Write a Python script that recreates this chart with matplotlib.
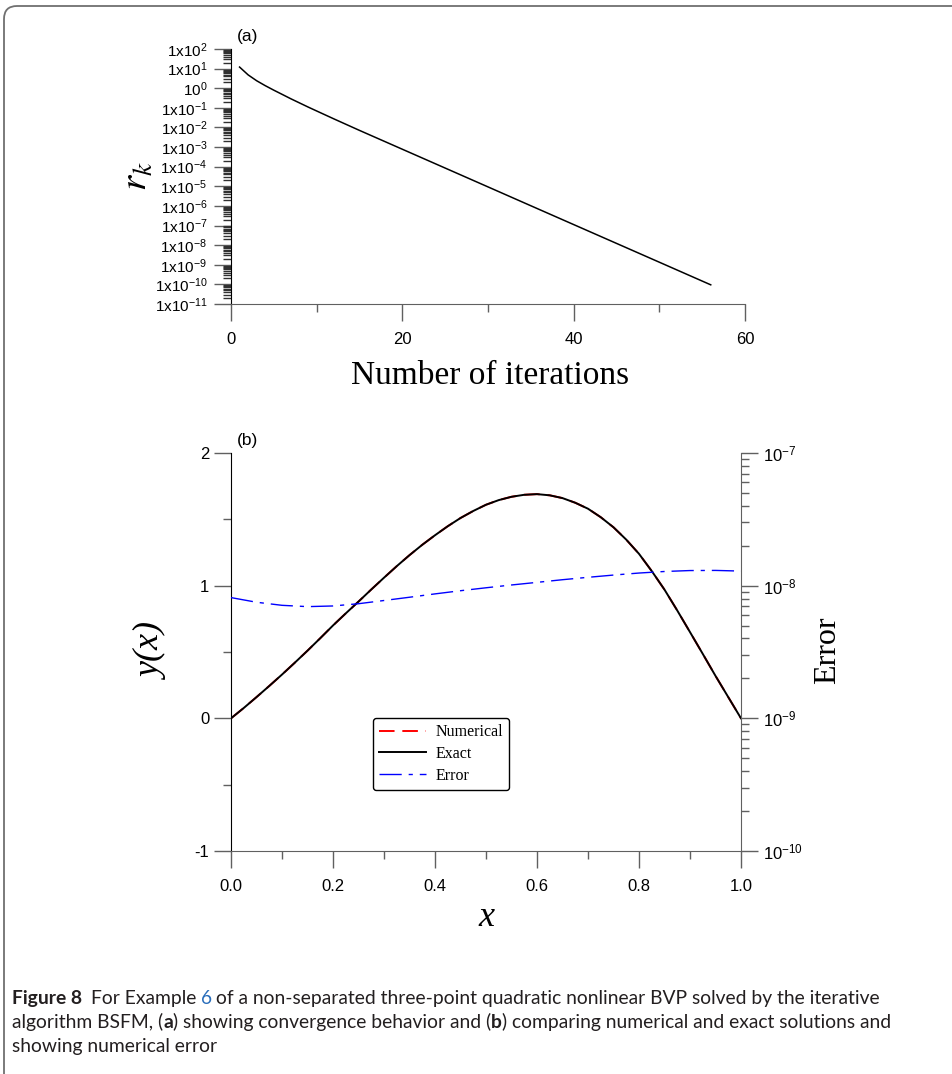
import matplotlib
matplotlib.use("Agg")
import matplotlib.pyplot as plt
import matplotlib.patches as mpatches
from matplotlib.ticker import FixedLocator, FixedFormatter, MultipleLocator, LogLocator, NullFormatter

plt.rcParams['font.family'] = ['Liberation Sans', 'DejaVu Sans']
plt.rcParams['mathtext.fontset'] = 'stix'
plt.rcParams['mathtext.default'] = 'regular'
plt.rcParams['axes.unicode_minus'] = False

# (a) convergence: residual r_k against iteration number
iterations = [1, 2, 3, 4, 5, 6, 7, 8, 9, 10, 12, 15, 20, 25, 30, 35, 40, 45, 50, 56]
residual = [12.0, 4.79, 2.40, 1.35, 0.794, 0.479, 0.288, 0.178, 0.110, 0.0692, 0.0275,
            7.08e-3, 7.76e-4, 8.51e-5, 9.33e-6, 1.02e-6, 1.12e-7, 1.23e-8, 1.35e-9, 9.5e-11]
r_tick_values = [1e2, 1e1, 1e0, 1e-1, 1e-2, 1e-3, 1e-4, 1e-5, 1e-6, 1e-7, 1e-8, 1e-9, 1e-10, 1e-11]
r_tick_labels = ['1x10$^{2}$', '1x10$^{1}$', '10$^{0}$', '1x10$^{-1}$', '1x10$^{-2}$', '1x10$^{-3}$',
                 '1x10$^{-4}$', '1x10$^{-5}$', '1x10$^{-6}$', '1x10$^{-7}$', '1x10$^{-8}$',
                 '1x10$^{-9}$', '1x10$^{-10}$', '1x10$^{-11}$']

# (b) solutions and error
x_vals = [0.0, 0.025, 0.05, 0.075, 0.1, 0.125, 0.15, 0.175, 0.2, 0.225, 0.25, 0.275,
          0.3, 0.325, 0.35, 0.375, 0.4, 0.425, 0.45, 0.475, 0.5, 0.525, 0.55, 0.575,
          0.6, 0.625, 0.65, 0.675, 0.7, 0.725, 0.75, 0.775, 0.8, 0.825, 0.85, 0.875,
          0.9, 0.925, 0.95, 0.975, 1.0]
y_exact = [0.000, 0.078, 0.160, 0.244, 0.330, 0.419, 0.510, 0.604, 0.700, 0.791, 0.880,
           0.971, 1.060, 1.147, 1.230, 1.308, 1.380, 1.448, 1.510, 1.563, 1.610, 1.645,
           1.670, 1.685, 1.690, 1.681, 1.660, 1.625, 1.580, 1.516, 1.440, 1.347, 1.240,
           1.110, 0.970, 0.813, 0.650, 0.486, 0.320, 0.160, 0.000]
y_numerical = [0.000, 0.078, 0.160, 0.244, 0.330, 0.419, 0.510, 0.604, 0.700, 0.791, 0.880,
               0.971, 1.060, 1.147, 1.230, 1.308, 1.380, 1.448, 1.510, 1.563, 1.610, 1.645,
               1.670, 1.685, 1.690, 1.681, 1.660, 1.625, 1.580, 1.516, 1.440, 1.347, 1.240,
               1.110, 0.970, 0.813, 0.650, 0.486, 0.320, 0.160, 0.000]
err_x = [0.0, 0.05, 0.1, 0.15, 0.2, 0.25, 0.3, 0.35, 0.4, 0.45, 0.5, 0.55, 0.6, 0.65,
         0.7, 0.75, 0.8, 0.85, 0.9, 0.95, 1.0]
err_vals = [8.13e-9, 7.50e-9, 7.11e-9, 6.95e-9, 7.03e-9, 7.31e-9, 7.73e-9, 8.18e-9,
            8.67e-9, 9.16e-9, 9.64e-9, 1.012e-8, 1.059e-8, 1.109e-8, 1.156e-8, 1.202e-8,
            1.245e-8, 1.279e-8, 1.300e-8, 1.303e-8, 1.288e-8]
err_tick_values = [1e-10, 1e-9, 1e-8, 1e-7]
err_tick_labels = ['10$^{-10}$', '10$^{-9}$', '10$^{-8}$', '10$^{-7}$']

W, H = 952, 1074
fig = plt.figure(figsize=(W / 100, H / 100), dpi=100)


def rect(l, t, r, b):
    return [l / W, 1 - b / H, (r - l) / W, (b - t) / H]


gray = '#606060'
serif = 'Liberation Serif'


def style_axis(ax, size=12):
    ax.tick_params(which='both', direction='out', colors=gray, labelcolor='black', labelsize=size)
    ax.tick_params(which='major', length=12, width=1)
    ax.tick_params(which='minor', length=6, width=1)
    for s in ax.spines.values():
        s.set_color(gray)
    ax.spines['left'].set_color('black')


# ---- panel (a)
ax1 = fig.add_axes(rect(231, 49, 745, 304))
ax1.plot(iterations, residual, color='black', lw=1.1)
ax1.set_yscale('log')
ax1.set_xlim(0, 60)
ax1.set_ylim(1e-11, 1e2)
ax1.spines['top'].set_visible(False)
ax1.spines['right'].set_visible(False)
style_axis(ax1, 11)
ax1.yaxis.set_major_locator(FixedLocator(r_tick_values))
ax1.yaxis.set_major_formatter(FixedFormatter(r_tick_labels))
ax1.yaxis.set_minor_locator(LogLocator(base=10, subs=range(2, 10), numticks=100))
ax1.yaxis.set_minor_formatter(NullFormatter())
ax1.tick_params(axis='y', which='minor', colors='#303030')
ax1.xaxis.set_major_locator(MultipleLocator(20))
ax1.xaxis.set_minor_locator(MultipleLocator(10))
ax1.tick_params(axis='x', which='major', pad=8, labelsize=12)
ax1.tick_params(axis='y', which='major', pad=5)
fig.text(237 / W, 1 - 37 / H, '(a)', fontsize=12.5, va='center', ha='left')
fig.text(490 / W, 1 - 376 / H, 'Number of iterations', fontfamily=serif, fontsize=24,
         ha='center', va='center')
fig.text(137 / W, 1 - 176 / H, r'$\mathit{r}_{\mathit{k}}$', fontsize=28, rotation=90,
         ha='center', va='center')

# ---- panel (b)
ax2 = fig.add_axes(rect(231, 453, 741, 851))
l_num, = ax2.plot(x_vals, y_numerical, color='red', lw=1.4, dashes=(8, 4), label='Numerical')
l_ex, = ax2.plot(x_vals, y_exact, color='black', lw=1.4, label='Exact')
ax2.set_xlim(0, 1)
ax2.set_ylim(-1, 2)
ax2.spines['top'].set_visible(False)
ax2.spines['right'].set_visible(False)
style_axis(ax2)
ax2.xaxis.set_major_locator(MultipleLocator(0.2))
ax2.xaxis.set_minor_locator(MultipleLocator(0.1))
ax2.xaxis.set_major_formatter(matplotlib.ticker.FormatStrFormatter('%.1f'))
ax2.yaxis.set_major_locator(MultipleLocator(1))
ax2.yaxis.set_minor_locator(MultipleLocator(0.5))
ax2.tick_params(axis='x', which='major', pad=8)

ax3 = ax2.twinx()
l_err, = ax3.plot(err_x, err_vals, color='blue', lw=1.0, dashes=(16, 5, 3, 5), label='Error')
ax3.set_yscale('log')
ax3.set_ylim(1e-10, 1e-7)
for s in ['top', 'left', 'bottom']:
    ax3.spines[s].set_visible(False)
style_axis(ax3)
ax3.spines['right'].set_color(gray)
ax3.yaxis.set_major_locator(FixedLocator(err_tick_values))
ax3.yaxis.set_major_formatter(FixedFormatter(err_tick_labels))
ax3.yaxis.set_minor_locator(LogLocator(base=10, subs=range(2, 10), numticks=100))
ax3.yaxis.set_minor_formatter(NullFormatter())

fig.text(237 / W, 1 - 440 / H, '(b)', fontsize=12.5, va='center', ha='left')
fig.text(152 / W, 1 - 652 / H, 'y(x)', fontfamily=serif, style='italic', fontsize=26,
         rotation=90, ha='center', va='center')
fig.text(828 / W, 1 - 650 / H, 'Error', fontfamily=serif, fontsize=23,
         rotation=90, ha='center', va='center')
fig.text(486 / W, 1 - 918 / H, 'x', fontfamily=serif, style='italic', fontsize=26,
         ha='center', va='center')

leg = ax2.legend(handles=[l_num, l_ex, l_err], loc='upper left',
                 bbox_to_anchor=(373 / W, 1 - 718 / H), bbox_transform=fig.transFigure,
                 borderaxespad=0, prop={'family': serif, 'size': 11.5}, handlelength=2.9,
                 handletextpad=0.6, labelspacing=0.35, borderpad=0.4, fancybox=True,
                 framealpha=1)
leg.get_frame().set_edgecolor('black')
leg.get_frame().set_linewidth(1.0)

# ---- frame around the figure (top and left edge, rounded corner)
frame = mpatches.FancyBboxPatch((0.04, -1.0), 12, H / 100 - 0.06 + 1.0,
                                boxstyle='round,pad=0,rounding_size=0.13',
                                transform=fig.dpi_scale_trans, fill=False,
                                edgecolor='#707070', lw=1.3, clip_on=False)
fig.add_artist(frame)

# ---- caption
renderer = fig.canvas.get_renderer()
cap = dict(fontfamily='Lato', fontsize=13.9, color='#231f20', va='baseline', ha='left')


def caption_line(pieces, y):
    x = 12
    for txt, extra, gap in pieces:
        x += gap
        kw = dict(cap)
        kw.update(extra)
        t = fig.text(x / W, 1 - y / H, txt, **kw)
        x = t.get_window_extent(renderer).x1


sp = 4
caption_line([('Figure 8', {'fontweight': 'bold'}, 0), ('For Example', {}, 9),
              ('6', {'color': '#2a6ebb'}, sp),
              ('of a non-separated three-point quadratic nonlinear BVP solved by the iterative', {}, sp)],
             1004)
caption_line([('algorithm BSFM, (', {}, 0), ('a', {'fontweight': 'bold'}, 0),
              (') showing convergence behavior and (', {}, 0), ('b', {'fontweight': 'bold'}, 0),
              (') comparing numerical and exact solutions and', {}, 0)], 1028)
caption_line([('showing numerical error', {}, 0)], 1052)

fig.savefig('out.png', dpi=100)
